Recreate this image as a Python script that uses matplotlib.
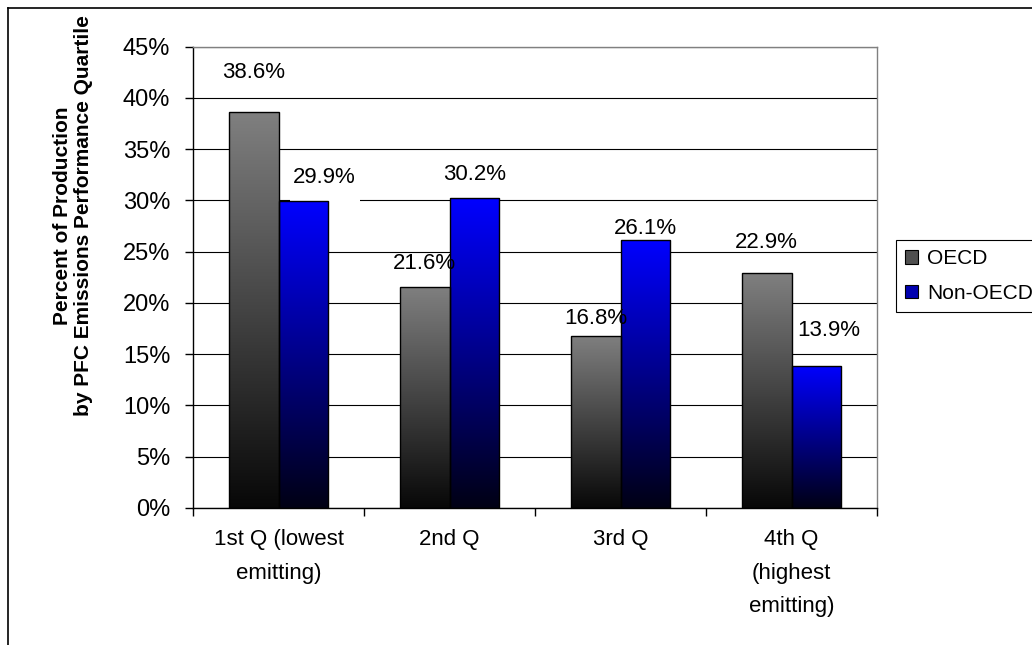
import numpy as np
import matplotlib
matplotlib.use('Agg')
import matplotlib.pyplot as plt
import matplotlib.transforms as mtransforms
from matplotlib.patches import Patch, Rectangle
from matplotlib.lines import Line2D

plt.rcParams['font.family'] = ['Liberation Sans', 'DejaVu Sans']

# PFC排出量の四分位ごとの生産シェア (%)
categories = ['1st Q (lowest\nemitting)', '2nd Q', '3rd Q', '4th Q\n(highest\nemitting)']
series_names = ['OECD', 'Non-OECD']
oecd = [38.6, 21.6, 16.8, 22.9]
non_oecd = [29.9, 30.2, 26.1, 13.9]
yticks = [0, 5, 10, 15, 20, 25, 30, 35, 40, 45]

# ラベルのずらし量 (px: 横, 棒の上端からの高さ)
oecd_label_off = [(0, 40), (0, 23), (0, 17), (0, 31)]
non_oecd_label_off = [(21, 24), (0, 24), (0, 12), (12, 35)]

# グラデーションの色 (上端, 下端)
oecd_grad = ((0.50, 0.50, 0.50), (0.03, 0.03, 0.03))
non_oecd_grad = ((0.0, 0.0, 1.0), (0.0, 0.0, 0.08))

fig = plt.figure(figsize=(10.32, 6.45), dpi=100)
ax = fig.add_axes([193 / 1032, 1 - 508 / 645, 684 / 1032, (508 - 46.7) / 645])

x = np.arange(len(categories))
w = 0.292


def gradient_fill(ax, bar, top, bottom):
    x0, y0 = bar.get_xy()
    t = np.linspace(0, 1, 256).reshape(-1, 1, 1)
    img = np.array(bottom) + (np.array(top) - np.array(bottom)) * t
    im = ax.imshow(img, extent=[x0, x0 + bar.get_width(), y0, y0 + bar.get_height()],
                   origin='lower', aspect='auto', interpolation='bilinear', zorder=2)
    im.set_clip_path(bar)


bars_a = ax.bar(x - w / 2, oecd, w, facecolor='none', edgecolor='black', linewidth=1, zorder=3)
bars_b = ax.bar(x + w / 2, non_oecd, w, facecolor='none', edgecolor='black', linewidth=1, zorder=3)
for b in bars_a:
    gradient_fill(ax, b, *oecd_grad)
for b in bars_b:
    gradient_fill(ax, b, *non_oecd_grad)

# 値ラベル
for bars, vals, offs in [(bars_a, oecd, oecd_label_off), (bars_b, non_oecd, non_oecd_label_off)]:
    for b, v, (dx, dy) in zip(bars, vals, offs):
        xc = b.get_x() + b.get_width() / 2
        ax.annotate('%.1f%%' % v, (xc, v),
                    xytext=(dx * 0.72, dy * 0.72), textcoords='offset points',
                    ha='center', va='center', fontsize=16, zorder=4)
        if v == non_oecd[0]:
            # このラベルの白地で目盛線が少し切れている (単位はインチ, 棒の上端基準)
            tr = fig.dpi_scale_trans + mtransforms.ScaledTranslation(xc, v, ax.transData)
            ax.add_patch(Rectangle((-0.13, -0.05), 0.70, 0.10, transform=tr,
                                   facecolor='white', edgecolor='none', zorder=1))

ax.set_xlim(-0.5, len(categories) - 0.5)
ax.set_ylim(0, 45)
ax.set_yticks(yticks)
ax.set_yticklabels(['%d%%' % v for v in yticks], fontsize=17)
ax.set_xticks(x)
ax.set_xticklabels(categories, fontsize=16, linespacing=1.8)
ax.set_xticks(np.arange(len(categories) + 1) - 0.5, minor=True)
ax.tick_params(axis='x', which='major', length=0, pad=15)
ax.tick_params(axis='x', which='minor', length=5.8, width=1, color='black')
ax.tick_params(axis='y', length=5.8, width=1, pad=10.5)

ax.yaxis.grid(True, color='black', linewidth=0.8)
ax.set_axisbelow(True)
for s in ['left', 'bottom']:
    ax.spines[s].set_color('black')
    ax.spines[s].set_linewidth(1)
for s in ['top', 'right']:
    ax.spines[s].set_color('#808080')
    ax.spines[s].set_linewidth(1)

fig.text(73 / 1032, 1 - 216 / 645, 'Percent of Production\nby PFC Emissions Performance Quartile',
         rotation=90, ha='center', va='center', fontsize=15, fontweight='bold',
         multialignment='center')

handles = [Patch(facecolor='#505050', edgecolor='black', linewidth=0.8),
           Patch(facecolor='#0000b0', edgecolor='black', linewidth=0.8)]
leg = fig.legend(handles, series_names, loc='upper left',
                 bbox_to_anchor=(896 / 1032, 1 - 240 / 645), fontsize=15,
                 frameon=True, fancybox=False, edgecolor='black', framealpha=1,
                 handlelength=0.6, handleheight=0.6, handletextpad=0.45,
                 borderpad=0.45, labelspacing=0.75, borderaxespad=0)
leg.get_frame().set_linewidth(0.8)

# 外枠
fig.add_artist(Line2D([8 / 1032, 1], [1 - 8 / 645] * 2, color='black', linewidth=1.2))
fig.add_artist(Line2D([8 / 1032] * 2, [0, 1 - 8 / 645], color='black', linewidth=1.2))

plt.savefig('out.png', dpi=100)
